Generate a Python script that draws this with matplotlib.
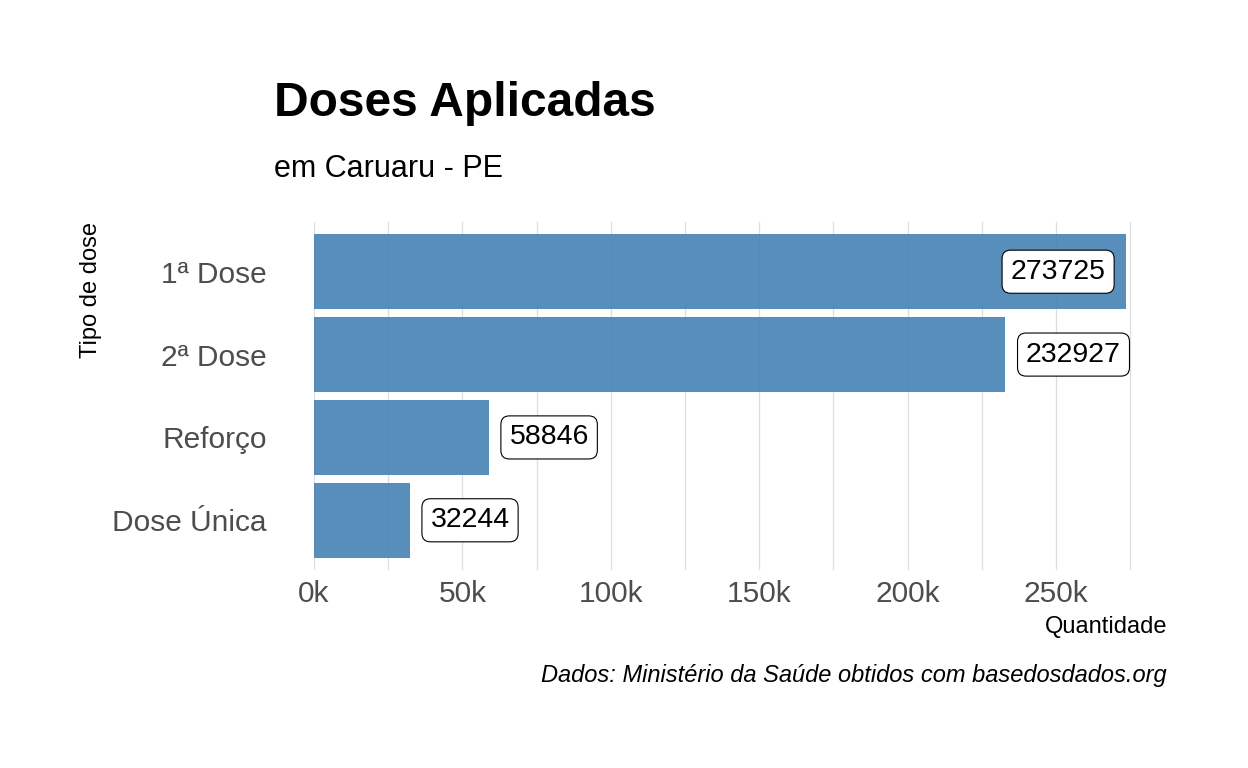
import matplotlib.pyplot as plt
from matplotlib.ticker import FuncFormatter, MultipleLocator

plt.rcParams['font.family'] = ['Liberation Sans', 'DejaVu Sans']

doses = ["1ª Dose", "2ª Dose", "Reforço", "Dose Única"]
quantidade = [273725, 232927, 58846, 32244]

W, H = 1248, 768
fig = plt.figure(figsize=(W / 100, H / 100), dpi=100)

# panel in pixel coordinates
left, right, top, bottom = 314, 1167, 222, 570
ax = fig.add_axes([left / W, 1 - bottom / H, (right - left) / W, (bottom - top) / H])

ypos = list(range(len(doses)))
ax.barh(ypos, quantidade, height=0.9, color="steelblue", alpha=0.9, zorder=2)

xmax = max(quantidade) * 1.05
ax.set_xlim(0, xmax)
ax.set_ylim(len(doses) - 1 + 0.6, -0.6)

for y, v in zip(ypos, quantidade):
    if v > 0.9 * max(quantidade):
        x, ha = v - 7000, "right"
    else:
        x, ha = v + 7000, "left"
    ax.text(x, y, str(v), ha=ha, va="center", fontsize=20.5, color="black", zorder=3,
            bbox=dict(boxstyle="round,pad=0.3,rounding_size=0.3", fc="white", ec="black", lw=0.8))

ax.xaxis.set_major_locator(MultipleLocator(50000))
ax.xaxis.set_minor_locator(MultipleLocator(25000))
ax.xaxis.set_major_formatter(FuncFormatter(lambda v, p: f"{int(v / 1000)}k"))
ax.set_yticks(ypos)
ax.set_yticklabels(doses)
ax.tick_params(axis="both", which="both", length=0, labelsize=21.5, labelcolor="#4D4D4D")
ax.tick_params(axis="y", pad=34)
ax.tick_params(axis="x", pad=7)

ax.grid(axis="x", which="both", color="#DEDEDE", lw=0.9, zorder=0)
ax.grid(axis="y", visible=False)
for s in ax.spines.values():
    s.set_visible(False)

ax.set_xlabel("Quantidade", fontsize=17, loc="right", va="baseline")
ax.xaxis.set_label_coords(1.0, (570 - 633) / 348)
ax.set_ylabel("Tipo de dose", fontsize=17, loc="top")
ax.yaxis.set_label_coords((102 - 314) / 853, 1.0)

fig.text(274 / W, 1 - 116 / H, "Doses Aplicadas", fontsize=34.5, fontweight="bold",
         ha="left", va="baseline")
fig.text(274 / W, 1 - 177 / H, "em Caruaru - PE", fontsize=22, ha="left", va="baseline")
fig.text(1167 / W, 1 - 682 / H, "Dados: Ministério da Saúde obtidos com basedosdados.org",
         fontsize=17, style="italic", ha="right", va="baseline")

fig.savefig("out.png", dpi=100, facecolor="white")
